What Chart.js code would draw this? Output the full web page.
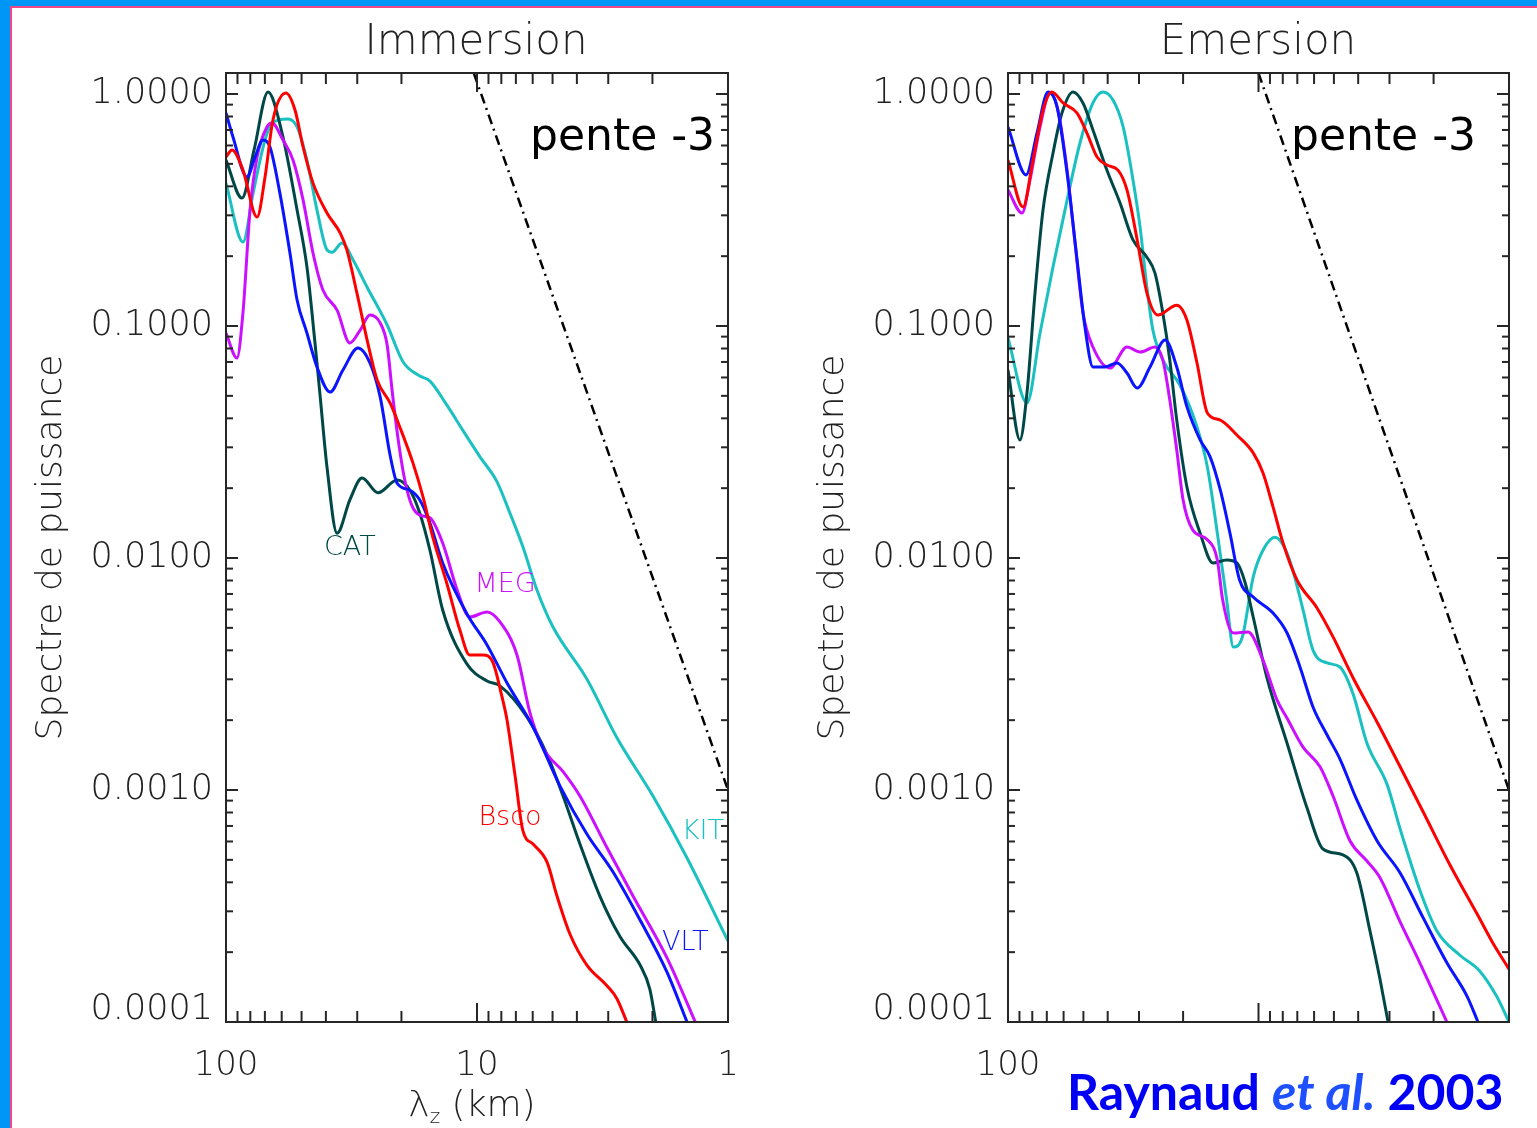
<!DOCTYPE html>
<html>
<head>
<meta charset="utf-8">
<script src="https://cdn.jsdelivr.net/npm/chart.js@4.4.1/dist/chart.umd.min.js"></script>
<style>
  body { margin: 0; background: #fff; }
  #page { position: relative; width: 1537px; height: 1128px; overflow: hidden; background: #fff; font-family: "DejaVu Sans", sans-serif; }
  .panel { position: absolute; top: 0; }
  .edge { position: absolute; }
  .ptitle { position: absolute; top: 19px; font-size: 42px; line-height: 42px; color: #222; font-weight: 200; transform: translateX(-50%); white-space: nowrap; }
  #xtitle { position: absolute; top: 1086px; left: 472px; transform: translateX(-50%); font-size: 36px; line-height: 36px; color: #222; font-weight: 200; white-space: nowrap; }
  #xtitle span { font-size: 20px; position: relative; top: 7px; }
  #cite { position: absolute; left: 1067px; top: 1068px; font-family: Lato, sans-serif; font-weight: 700; font-size: 50px; line-height: 46px; color: #0000F5; white-space: nowrap; }
  #cite i { color: #1E50FF; }
</style>
</head>
<body>
<div id="page">
  <canvas id="immersion" class="panel" style="left:0" width="768" height="1128"></canvas>
  <canvas id="emersion" class="panel" style="left:768px" width="769" height="1128"></canvas>

  <div class="ptitle" style="left:476px">Immersion</div>
  <div class="ptitle" style="left:1258px">Emersion</div>
  <div id="xtitle">λ<span>z</span> (km)</div>
  <div id="cite">Raynaud <i>et al.</i> 2003</div>

  <div class="edge" style="left:0;top:0;width:1537px;height:6px;background:#0096F5"></div>
  <div class="edge" style="left:0;top:0;width:10px;height:1128px;background:#0096F5"></div>
  <div class="edge" style="left:10px;top:6px;width:1527px;height:2px;background:#F0468A"></div>
  <div class="edge" style="left:10px;top:6px;width:2px;height:1122px;background:#F0468A"></div>
</div>

<script>
// axis ticks
const xMajor = [100, 10, 1];
const yMajor = [1, 0.1, 0.01, 0.001, 0.0001];
const xLabelsImm = [100, 10, 1];
const xLabelsEm = [100];

// slope -3 reference line
const slopeLamImm = [10.3, 1.0];
const slopeLamEm = [10.0, 1.0];
const slopeP = [1.23, 0.001];

/* ---------- Immersion (lambda_z in km, normalised power) ---------- */
const immCatLam = [100, 86.4, 77.3, 68.0, 59.8, 52.1, 47.6, 44.2, 42.2, 39.6, 36.1, 32.1, 28.7, 24.8, 20.8, 18.5, 16.9, 15.4, 13.7, 10.96, 9.12, 8.10, 6.32, 5.26, 4.54, 3.89, 3.24, 2.69, 2.24, 2.05, 1.94];
const immCatP = [0.519, 0.356, 0.574, 1.02, 0.679, 0.316, 0.180, 0.0845, 0.0504, 0.0247, 0.0128, 0.0178, 0.0221, 0.0191, 0.0217, 0.0196, 0.0156, 0.0108, 0.00597, 0.00349, 0.00295, 0.00281, 0.00206, 0.00142, 0.000942, 0.000585, 0.000349, 0.000233, 0.000176, 0.000139, 0.0001];

const immKitLam = [100, 85.6, 78.0, 69.9, 65.6, 56.6, 52.1, 47.6, 43.4, 39.6, 37.8, 34.5, 31.2, 27.4, 22.8, 19.7, 16.9, 15.4, 13.2, 11.4, 9.73, 8.32, 7.39, 6.56, 5.77, 4.98, 3.65, 2.77, 1.99, 1.456, 1.0];
const immKitP = [0.413, 0.230, 0.374, 0.634, 0.750, 0.780, 0.721, 0.519, 0.316, 0.213, 0.208, 0.228, 0.193, 0.147, 0.101, 0.0700, 0.0609, 0.0579, 0.0457, 0.0356, 0.0273, 0.0213, 0.0156, 0.01115, 0.00728, 0.00504, 0.00301, 0.00168, 0.000942, 0.000509, 0.000223];

const immMegLam = [100, 90.4, 85.6, 80.2, 75.2, 68.7, 65.6, 59.3, 54.1, 49.3, 45.0, 41.1, 36.1, 32.1, 29.2, 26.7, 24.3, 22.8, 21.8, 20.6, 19.4, 18.2, 16.9, 15.4, 13.7, 12.0, 10.7, 9.12, 8.10, 6.93, 6.15, 5.46, 4.54, 3.89, 3.03, 2.39, 1.75, 1.35];
const immMegP = [0.0933, 0.0728, 0.114, 0.316, 0.535, 0.721, 0.750, 0.634, 0.519, 0.349, 0.206, 0.143, 0.117, 0.0845, 0.0961, 0.1115, 0.103, 0.0828, 0.053, 0.0323, 0.0217, 0.0169, 0.0153, 0.0149, 0.0116, 0.00728, 0.00557, 0.00585, 0.0053, 0.00382, 0.00215, 0.00152, 0.0012, 0.000942, 0.000562, 0.000349, 0.000189, 0.0001];

const immVltLam = [100, 93.8, 82.5, 76.6, 71.2, 66.8, 61.0, 55.6, 52.1, 47.6, 43.4, 38.5, 34.2, 29.8, 26.7, 24.3, 22.2, 20.8, 18.5, 16.9, 15.4, 13.7, 10.96, 9.12, 7.59, 5.98, 4.67, 3.65, 2.87, 2.24, 1.75, 1.456];
const immVltP = [0.828, 0.653, 0.439, 0.535, 0.634, 0.591, 0.374, 0.206, 0.1295, 0.0933, 0.0666, 0.0519, 0.0646, 0.0804, 0.0693, 0.0494, 0.0278, 0.021, 0.0196, 0.0178, 0.01415, 0.00952, 0.00574, 0.00422, 0.00289, 0.00187, 0.00104, 0.000646, 0.000443, 0.000275, 0.000164, 0.0001];

const immBscoLam = [100, 94.6, 85.6, 75.2, 69.9, 65.0, 57.7, 53.1, 49.3, 45.0, 39.6, 35.1, 33.0, 30.1, 27.4, 25.0, 22.2, 20.3, 18.0, 16.4, 15.0, 13.2, 11.7, 10.7, 9.46, 8.63, 7.95, 7.59, 7.06, 6.56, 5.98, 5.26, 4.80, 4.26, 3.65, 3.03, 2.77, 2.53];
const immBscoP = [0.535, 0.574, 0.470, 0.295, 0.439, 0.773, 1.01, 0.853, 0.591, 0.413, 0.307, 0.252, 0.213, 0.139, 0.087, 0.0585, 0.0466, 0.0367, 0.0257, 0.0183, 0.0123, 0.0078, 0.00489, 0.00382, 0.00382, 0.00353, 0.00252, 0.002, 0.00116, 0.000666, 0.000585, 0.000489, 0.000349, 0.000239, 0.000176, 0.000143, 0.000126, 0.0001];

/* ---------- Emersion ---------- */
const emCatLam = [100, 89.6, 84.0, 78.0, 72.5, 66.1, 60.9, 55.0, 50.2, 45.8, 40.3, 35.7, 31.7, 27.9, 25.9, 24.1, 22.6, 21.2, 19.3, 17.1, 15.2, 13.4, 12.2, 11.3, 10.5, 9.25, 7.69, 6.40, 5.53, 4.60, 4.05, 3.59, 3.27, 3.04];
const emCatP = [0.0646, 0.0323, 0.0514, 0.139, 0.316, 0.557, 0.828, 1.02, 0.915, 0.700, 0.470, 0.339, 0.235, 0.198, 0.169, 0.114, 0.0714, 0.0393, 0.0202, 0.0128, 0.00952, 0.0098, 0.00952, 0.0078, 0.00557, 0.00304, 0.00159, 0.000836, 0.000557, 0.000525, 0.000439, 0.000247, 0.000152, 0.0001];

const emKitLam = [100, 84.0, 74.5, 66.1, 58.1, 51.6, 45.8, 41.8, 38.1, 34.7, 31.7, 29.7, 27.9, 26.4, 24.1, 20.6, 17.6, 16.0, 14.6, 13.4, 12.6, 11.6, 10.5, 9.60, 8.59, 7.84, 7.28, 6.64, 6.06, 5.33, 4.73, 4.19, 3.69, 3.07, 2.72, 2.27, 1.94, 1.57, 1.31, 1.12, 1.0];
const emKitP = [0.0888, 0.0466, 0.0933, 0.180, 0.349, 0.615, 0.915, 1.02, 0.942, 0.721, 0.426, 0.267, 0.147, 0.0961, 0.0714, 0.0557, 0.0367, 0.0247, 0.0128, 0.00659, 0.00413, 0.00457, 0.00828, 0.0108, 0.0123, 0.011, 0.00879, 0.00597, 0.00401, 0.00353, 0.00339, 0.00259, 0.00159, 0.00106, 0.000679, 0.000371, 0.000247, 0.000194, 0.000166, 0.000129, 0.0001];

const emMegLam = [100, 87.9, 81.7, 74.5, 68.0, 63.2, 58.1, 54.0, 50.2, 45.8, 39.2, 33.5, 29.7, 25.9, 24.1, 22.6, 21.2, 20.0, 18.3, 16.0, 14.6, 13.9, 12.6, 11.0, 9.60, 8.43, 7.69, 6.64, 5.68, 5.04, 4.31, 3.69, 3.27, 2.72, 2.27, 1.77];
const emMegP = [0.386, 0.307, 0.426, 0.721, 1.01, 0.853, 0.470, 0.228, 0.114, 0.0812, 0.0659, 0.0812, 0.0772, 0.0812, 0.0714, 0.048, 0.0292, 0.0178, 0.0132, 0.012, 0.0098, 0.00659, 0.00475, 0.0048, 0.00363, 0.00244, 0.00204, 0.00153, 0.00126, 0.000942, 0.000603, 0.000494, 0.000418, 0.00027, 0.00018, 0.0001];

const emVltLam = [100, 84.7, 76.6, 69.2, 63.7, 58.1, 53.0, 49.3, 45.8, 41.0, 36.7, 33.5, 30.5, 27.1, 23.6, 21.2, 19.3, 17.1, 15.6, 14.2, 13.0, 11.9, 10.5, 8.75, 7.69, 6.83, 6.06, 5.33, 4.73, 4.05, 3.36, 2.72, 2.20, 1.77, 1.47, 1.33];
const emVltP = [0.721, 0.448, 0.679, 1.02, 0.879, 0.457, 0.193, 0.099, 0.0666, 0.0666, 0.0693, 0.0627, 0.054, 0.0666, 0.087, 0.0666, 0.0448, 0.0323, 0.0273, 0.0196, 0.0128, 0.00804, 0.00679, 0.00579, 0.00475, 0.00339, 0.00228, 0.00173, 0.00136, 0.000906, 0.000603, 0.000439, 0.000281, 0.00018, 0.000129, 0.0001];

const emBscoLam = [100, 87.1, 79.5, 72.5, 66.8, 60.3, 53.0, 48.4, 44.1, 40.3, 36.4, 33.5, 30.5, 27.9, 25.2, 21.2, 19.3, 17.6, 16.0, 14.2, 12.2, 10.5, 9.60, 8.75, 7.98, 7.02, 5.84, 5.04, 4.19, 3.36, 2.72, 2.20, 1.72, 1.34, 1.16, 1.0];
const emBscoP = [0.519, 0.326, 0.519, 0.853, 1.02, 0.915, 0.828, 0.679, 0.535, 0.494, 0.470, 0.386, 0.235, 0.139, 0.1115, 0.123, 0.106, 0.0693, 0.0422, 0.0393, 0.0339, 0.0284, 0.0233, 0.0166, 0.0116, 0.00804, 0.00609, 0.00457, 0.00304, 0.00196, 0.00126, 0.000804, 0.000475, 0.000292, 0.000219, 0.000169];

// instrument colours
const colors = { CAT: '#004848', KIT: '#1BC1C1', MEG: '#CC10FF', VLT: '#0A14FF', Bsco: '#FF0000' };
const txtFont = '200 27px "DejaVu Sans"';
const penteFont = '44px "DejaVu Sans"';

/* box + inward log ticks on all four sides */
const frameTicks = {
  id: 'frameTicks',
  afterDatasetsDraw(chart) {
    const { ctx, chartArea: a, scales: { x, y } } = chart;
    const seg = (x1, y1, x2, y2) => { ctx.beginPath(); ctx.moveTo(x1, y1); ctx.lineTo(x2, y2); ctx.stroke(); };
    ctx.save();
    ctx.strokeStyle = '#262626';
    ctx.lineWidth = 2;
    ctx.strokeRect(a.left, a.top, a.right - a.left, a.bottom - a.top);
    xMajor.forEach(m => {
      const px = x.getPixelForValue(m);
      seg(px, a.bottom, px, a.bottom - 19);
      seg(px, a.top, px, a.top + 19);
      if (m < 100) for (let k = 2; k <= 9; k++) {
        const q = x.getPixelForValue(m * k);
        seg(q, a.bottom, q, a.bottom - 11);
        seg(q, a.top, q, a.top + 11);
      }
    });
    yMajor.forEach(m => {
      const py = y.getPixelForValue(m);
      seg(a.left, py, a.left + 12, py);
      seg(a.right, py, a.right - 12, py);
      if (m < 1) for (let k = 2; k <= 9; k++) {
        const q = y.getPixelForValue(m * k);
        seg(a.left, q, a.left + 7, q);
        seg(a.right, q, a.right - 7, q);
      }
    });
    ctx.restore();
  }
};

function textPlugin(items) {
  return {
    id: 'curveText',
    afterDatasetsDraw(chart) {
      const { ctx, scales: { x, y } } = chart;
      ctx.save();
      items.forEach(t => {
        ctx.font = t.font;
        ctx.fillStyle = t.color;
        ctx.textAlign = t.align || 'center';
        ctx.textBaseline = t.base || 'middle';
        ctx.fillText(t.text, x.getPixelForValue(t.lam), y.getPixelForValue(t.p));
      });
      ctx.restore();
    }
  };
}

function series(lam, p, color) {
  return {
    data: lam.map((l, i) => ({ x: l, y: p[i] })),
    borderColor: color, borderWidth: 3, pointRadius: 0,
    cubicInterpolationMode: 'monotone', fill: false
  };
}

function slope(lam) {
  return {
    data: lam.map((l, i) => ({ x: l, y: slopeP[i] })),
    borderColor: '#000', borderWidth: 2.5, borderDash: [10, 5, 2, 5], pointRadius: 0, fill: false
  };
}

function makePanel(id, datasets, cfg) {
  return new Chart(document.getElementById(id), {
    type: 'line',
    data: { datasets },
    options: {
      responsive: false,
      animation: false,
      events: [],
      layout: { padding: { top: 73, right: cfg.padRight, left: 0, bottom: 0 } },
      plugins: { legend: { display: false }, tooltip: { enabled: false } },
      scales: {
        x: {
          type: 'logarithmic', min: 1, max: 100, reverse: true,
          grid: { display: false }, border: { display: false },
          afterBuildTicks: s => { s.ticks = cfg.xLabels.map(v => ({ value: v })); },
          afterFit: s => { s.height = 106; },
          ticks: {
            autoSkip: false, maxRotation: 0, padding: 16, color: '#222',
            font: { family: 'DejaVu Sans', size: 34, weight: 200 },
            callback: v => String(v)
          }
        },
        y: {
          type: 'logarithmic', min: 0.0001, max: 1.232,
          grid: { display: false }, border: { display: false },
          afterBuildTicks: s => { s.ticks = yMajor.map(v => ({ value: v })); },
          afterFit: s => { s.width = cfg.yWidth; },
          ticks: {
            autoSkip: false, padding: 5, color: '#222',
            // the lowest label sits a little above its tick, as in the figure
            font: c => ({ family: 'DejaVu Sans', size: 35, weight: 200,
                          lineHeight: c.tick && c.tick.value === 0.0001 ? '24px' : 1.2 }),
            callback: v => v === 0.0001 ? [v.toFixed(4), ''] : v.toFixed(4)
          },
          title: {
            display: true, text: 'Spectre de puissance', color: '#222',
            font: { family: 'DejaVu Sans', size: 36, weight: 200 },
            padding: { top: cfg.yTitlePad, bottom: 0 }
          }
        }
      }
    },
    plugins: [frameTicks, textPlugin(cfg.texts)]
  });
}

makePanel('immersion', [
  series(immBscoLam, immBscoP, colors.Bsco),
  series(immVltLam, immVltP, colors.VLT),
  series(immMegLam, immMegP, colors.MEG),
  series(immCatLam, immCatP, colors.CAT),
  series(immKitLam, immKitP, colors.KIT),
  slope(slopeLamImm)
], {
  padRight: 40, yWidth: 226, yTitlePad: 30, xLabels: xLabelsImm,
  texts: [
    { text: 'CAT', lam: 32.1, p: 0.011, color: colors.CAT, font: txtFont },
    { text: 'MEG', lam: 7.73, p: 0.00765, color: colors.MEG, font: txtFont },
    { text: 'Bsco', lam: 7.39, p: 0.000757, color: colors.Bsco, font: txtFont },
    { text: 'KIT', lam: 1.26, p: 0.000659, color: colors.KIT, font: txtFont },
    { text: 'VLT', lam: 1.48, p: 0.000219, color: colors.VLT, font: txtFont },
    { text: 'pente -3', lam: 6.15, p: 0.574, color: '#000', font: penteFont, align: 'left', base: 'alphabetic' }
  ]
});

makePanel('emersion', [
  series(emBscoLam, emBscoP, colors.Bsco),
  series(emVltLam, emVltP, colors.VLT),
  series(emMegLam, emMegP, colors.MEG),
  series(emCatLam, emCatP, colors.CAT),
  series(emKitLam, emKitP, colors.KIT),
  slope(slopeLamEm)
], {
  padRight: 28, yWidth: 240, yTitlePad: 44, xLabels: xLabelsEm,
  texts: [
    { text: 'pente -3', lam: 7.42, p: 0.574, color: '#000', font: penteFont, align: 'left', base: 'alphabetic' }
  ]
});
</script>
</body>
</html>
